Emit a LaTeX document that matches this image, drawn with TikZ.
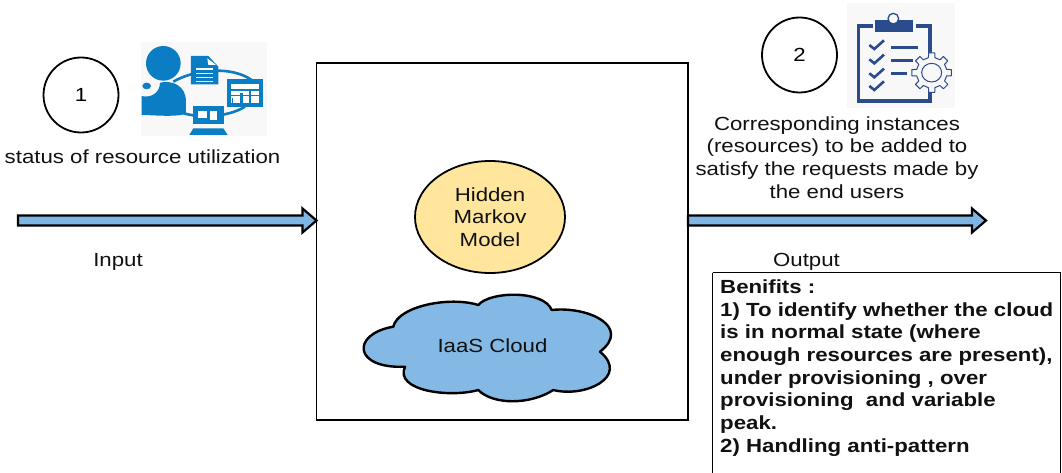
\documentclass[tikz,border=0pt]{standalone}
\usepackage{fontspec}
\setmainfont[FakeStretch=1.17]{Liberation Sans}
\usetikzlibrary{calc,shapes.geometric}
\definecolor{arrowblue}{HTML}{7FB5E4}
\definecolor{cloudblue}{HTML}{83B9E4}
\definecolor{hmmyellow}{HTML}{FFE69C}
\definecolor{iconblue}{HTML}{0A7DC5}
\definecolor{icondark}{HTML}{2A4C8C}
\definecolor{iconbg}{HTML}{F8F8F8}
\definecolor{inkc}{HTML}{111111}
\tikzset{
  lab/.style={font=\fontsize{19}{22.7}\selectfont,text=inkc,inner sep=0pt,align=center},
  numcircle/.style={circle,draw=black,line width=1.8pt,fill=white,minimum size=75pt,inner sep=0pt,font=\fontsize{19}{22}\selectfont},
  blockarrow/.style={draw=black,line width=2.2pt,fill=arrowblue,line join=miter},
  mainbox/.style={draw=black,line width=1.8pt,fill=white},
  benbox/.style={draw=black,line width=1.6pt,fill=white},
}
\newcommand{\blockarrow}[2]{%
  \path[blockarrow] ($(#1)+(0,-5)$) -- ($(#2)+(-14,-5)$) -- ($(#2)+(-14,-12)$) -- (#2)
    -- ($(#2)+(-14,12)$) -- ($(#2)+(-14,5)$) -- ($(#1)+(0,5)$) -- cycle;}
\begin{document}
\begin{tikzpicture}[x=1pt,y=-1pt]
\useasboundingbox (0,0) rectangle (1062,473);
% main box
\draw[mainbox] (316.5,63) rectangle (688,420);
\coordinate (boxW) at (316.5,220.5);
\coordinate (boxE) at (688,220.5);
\coordinate (inS) at (18,220.5);
\coordinate (outE) at (986,220.5);
\blockarrow{inS}{boxW}
\blockarrow{boxE}{outE}
% HMM
\node[ellipse,draw=black,line width=1.8pt,fill=hmmyellow,minimum width=150pt,minimum height=112pt,inner sep=0pt,lab] (hmm) at (490,217) {Hidden\\Markov\\Model};
% cloud
\draw[black,line width=2.4pt,fill=cloudblue,line join=round]
 (393.3,326.7) .. controls (398,306) and (450,296) .. (478.3,305)
 .. controls (490,291) and (544,290) .. (551.7,310)
 .. controls (588,306) and (632,326.7) .. (600,351.7)
 .. controls (630,376.7) and (585,398) .. (553.3,390)
 .. controls (530,405) and (493,405) .. (478.3,390)
 .. controls (450,398) and (394,391) .. (405,366.7)
 .. controls (353,369) and (351,334) .. (393.3,326.7) -- cycle;
\node[lab] (cloudtxt) at (492.5,345.5) {IaaS Cloud};
% circles
\node[numcircle] (c1) at (81,95) {1};
\node[numcircle] (c2) at (799.5,55) {2};
% texts
\node[lab] (status) at (142.5,157) {status of resource utilization};
\node[lab,anchor=base] (input) at (118,266) {Input};
\node[lab,anchor=base] (output) at (806.5,266) {Output};
\node[lab] (corr) at (837,157.5) {Corresponding instances\\(resources) to be added to\\satisfy the requests made by\\the end users};
% benefits
\draw[benbox] (712.5,272.5) -- (1060.5,272.5) -- (1060.5,473) (712.5,272.5) -- (712.5,473);
\node[lab,anchor=north west,align=left,font=\bfseries\fontsize{19}{22.7}\selectfont] (ben) at (720,279.5) {Benifits :\\1) To identify whether the cloud\\is in normal state (where\\enough resources are present),\\under provisioning , over\\provisioning~ and variable\\peak.\\2) Handling anti-pattern};
% icon 1
\fill[iconbg] (141,42) rectangle (267,136);
\begin{scope}[shift={(130,30)},x=0.3333pt,y=-0.3333pt]
 \draw[iconblue,line width=2.6pt] (130,155) .. controls (190,120) and (300,105) .. (365,150);
 \draw[iconblue,line width=2.6pt] (150,245) .. controls (190,265) and (290,265) .. (345,230);
 \fill[iconblue] (100,100) circle (52);
 \fill[iconblue] (35,198) .. controls (60,205) and (90,190) .. (90,158) .. controls (125,150) and (168,165) .. (168,215) -- (168,252) .. controls (130,262) and (70,255) .. (35,255) -- cycle;
 \fill[iconblue] (50,168) ellipse (13 and 10);
 \fill[iconblue] (183,78) -- (235,78) -- (265,110) -- (265,163) -- (183,163) -- cycle;
 \fill[white] (232,85) -- (258,105) -- (235,105) -- cycle;
 \foreach \yy in {115,128,141,153} \fill[white] (198,\yy) rectangle (248,\yy+4);
 \fill[iconblue] (290,148) rectangle (400,230);
 \fill[white] (303,163) rectangle (388,220);
 \fill[iconblue] (303,176) rectangle (388,182);
 \fill[iconblue] (303,196) rectangle (388,198);
 \fill[iconblue] (330,188) rectangle (340,220);
 \fill[iconblue] (358,182) rectangle (362,220);
 \fill[iconblue] (305,205) rectangle (310,220);
 \fill[iconblue] (190,228) rectangle (282,283);
 \fill[white] (205,243) rectangle (232,265);
 \fill[white] (240,243) rectangle (262,270);
 \fill[iconblue] (190,295) -- (280,295) -- (293,315) -- (178,315) -- cycle;
\end{scope}
% icon 2
\fill[iconbg] (847,3) rectangle (955,108);
\begin{scope}[shift={(840,0)},x=0.3333pt,y=-0.3333pt]
 \draw[icondark,line width=3.2pt,line join=miter] (98,78) -- (56,78) -- (56,303) -- (270,303) -- (270,265);
 \draw[icondark,line width=3.2pt] (228,78) -- (270,78) -- (270,170);
 \fill[icondark] (105,60) rectangle (220,97);
 \draw[icondark,line width=1.3pt,fill=iconbg] (160,56) circle (16);
 \foreach \yy in {135,178,220,258} \draw[icondark,line width=2.6pt] (88,\yy) -- (103,\yy+12) -- (132,\yy-14);
 \draw[icondark,line width=2.6pt] (153,142) -- (235,142);
 \draw[icondark,line width=2.6pt] (153,182) -- (218,182);
 \draw[icondark,line width=2.6pt] (153,221) -- (200,221);
 \fill[iconbg] (275,218) circle (60);
 \draw[icondark,line width=1pt] (275,218) ellipse (30 and 28);
 \draw[icondark,line width=1pt,line join=round]
  \foreach \a in {0,45,...,315} { ($(275,218)+(\a-12:46)$) -- ($(275,218)+(\a-9:60)$) -- ($(275,218)+(\a+9:60)$) -- ($(275,218)+(\a+12:46)$) -- ($(275,218)+(\a+33:46)$) };
\end{scope}
\end{tikzpicture}
\end{document}
